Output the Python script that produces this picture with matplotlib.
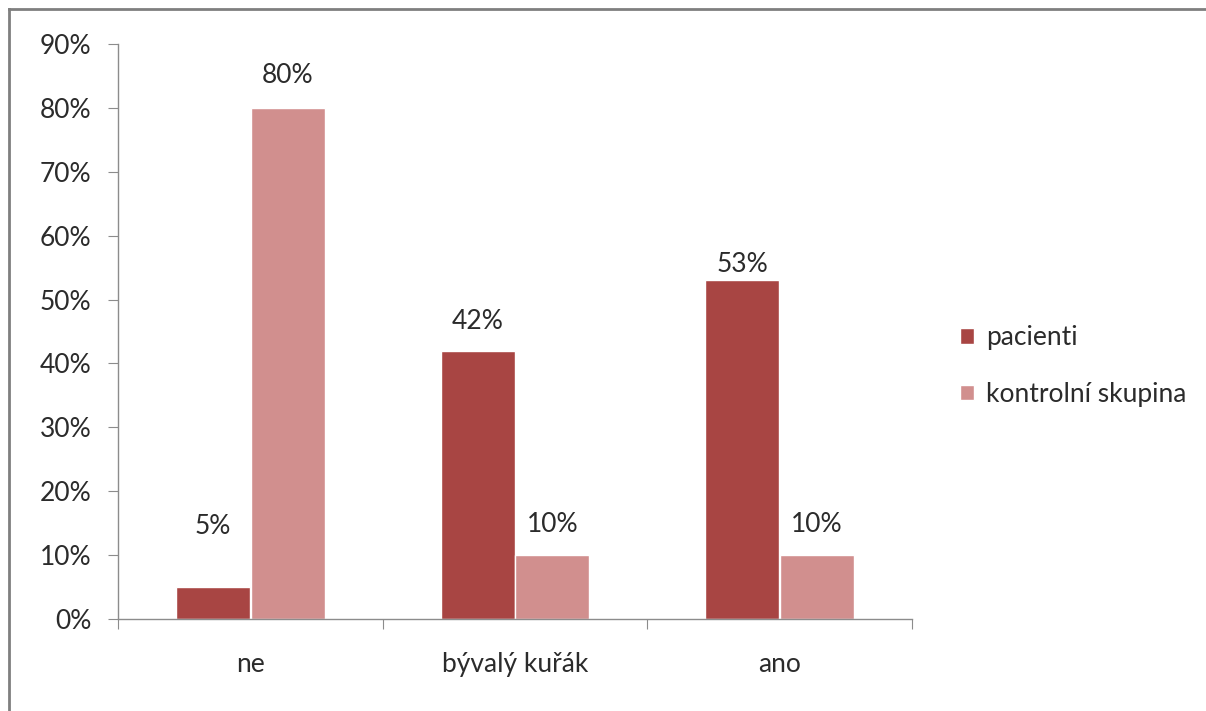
import numpy as np
import matplotlib.pyplot as plt
from matplotlib.lines import Line2D
from matplotlib.ticker import FixedLocator, PercentFormatter

plt.rcParams['font.family'] = ['Lato', 'DejaVu Sans']

categories = ['ne', 'bývalý kuřák', 'ano']
pacienti = [5, 42, 53]
kontrolni = [80, 10, 10]
series_names = ['pacienti', 'kontrolní skupina']

# distance of each value label above its bar, in pixels
label_gap_pac = [61, 29, 16]
label_gap_kon = [32, 31, 31]

col_pac = '#A84543'
col_kon = '#D18F8E'
text_col = '#2b2b2b'
axis_col = '#8C8C8C'
fs = 19

fig = plt.figure(figsize=(12.06, 7.11), dpi=100)
ax = fig.add_axes([118 / 1206, 92 / 711, (912 - 118) / 1206, (619 - 44) / 711])

x = np.arange(len(categories))
w = 0.28
b1 = ax.bar(x - 0.141, pacienti, w, color=col_pac, edgecolor='white', linewidth=1, label=series_names[0])
b2 = ax.bar(x + 0.141, kontrolni, w, color=col_kon, edgecolor='white', linewidth=1, label=series_names[1])

# value labels
for bars, vals, gaps in [(b1, pacienti, label_gap_pac), (b2, kontrolni, label_gap_kon)]:
    for rect, v, g in zip(bars, vals, gaps):
        ax.annotate(f'{v}%', (rect.get_x() + rect.get_width() / 2, v),
                    xytext=(0, g), textcoords='offset pixels',
                    ha='center', va='center', fontsize=fs, color=text_col)

ax.set_xlim(-0.5, 2.5)
ax.set_ylim(0, 90)
ax.set_yticks(np.arange(0, 91, 10))
ax.yaxis.set_major_formatter(PercentFormatter(decimals=0))

# ticks between categories, labels at centres
ax.xaxis.set_major_locator(FixedLocator([-0.5, 0.5, 1.5, 2.5]))
ax.xaxis.set_minor_locator(FixedLocator(x))
ax.set_xticklabels([], minor=False)
ax.set_xticklabels(categories, minor=True)
ax.tick_params(axis='x', which='major', length=7, color=axis_col, direction='out')
ax.tick_params(axis='x', which='minor', length=0, pad=24, labelsize=fs, labelcolor=text_col)
ax.tick_params(axis='y', length=7, color=axis_col, direction='out', pad=12,
               labelsize=fs, labelcolor=text_col)

for s in ['top', 'right']:
    ax.spines[s].set_visible(False)
for s in ['left', 'bottom']:
    ax.spines[s].set_color(axis_col)
    ax.spines[s].set_linewidth(1)

leg = fig.legend(handles=[b1, b2], labels=series_names, loc='center left',
                 bbox_to_anchor=(936 / 1206, 1 - 366 / 711), frameon=False,
                 fontsize=fs, handlelength=0.55, handleheight=0.55, handletextpad=0.45,
                 labelspacing=1.2, labelcolor=text_col)

# outer chart frame
fig.add_artist(Line2D([9 / 1206, 1], [1 - 9 / 711, 1 - 9 / 711], transform=fig.transFigure,
                      color='#7F7F7F', linewidth=2))
fig.add_artist(Line2D([9 / 1206, 9 / 1206], [0, 1 - 9 / 711], transform=fig.transFigure,
                      color='#7F7F7F', linewidth=2))

fig.savefig('out.png', dpi=100)
